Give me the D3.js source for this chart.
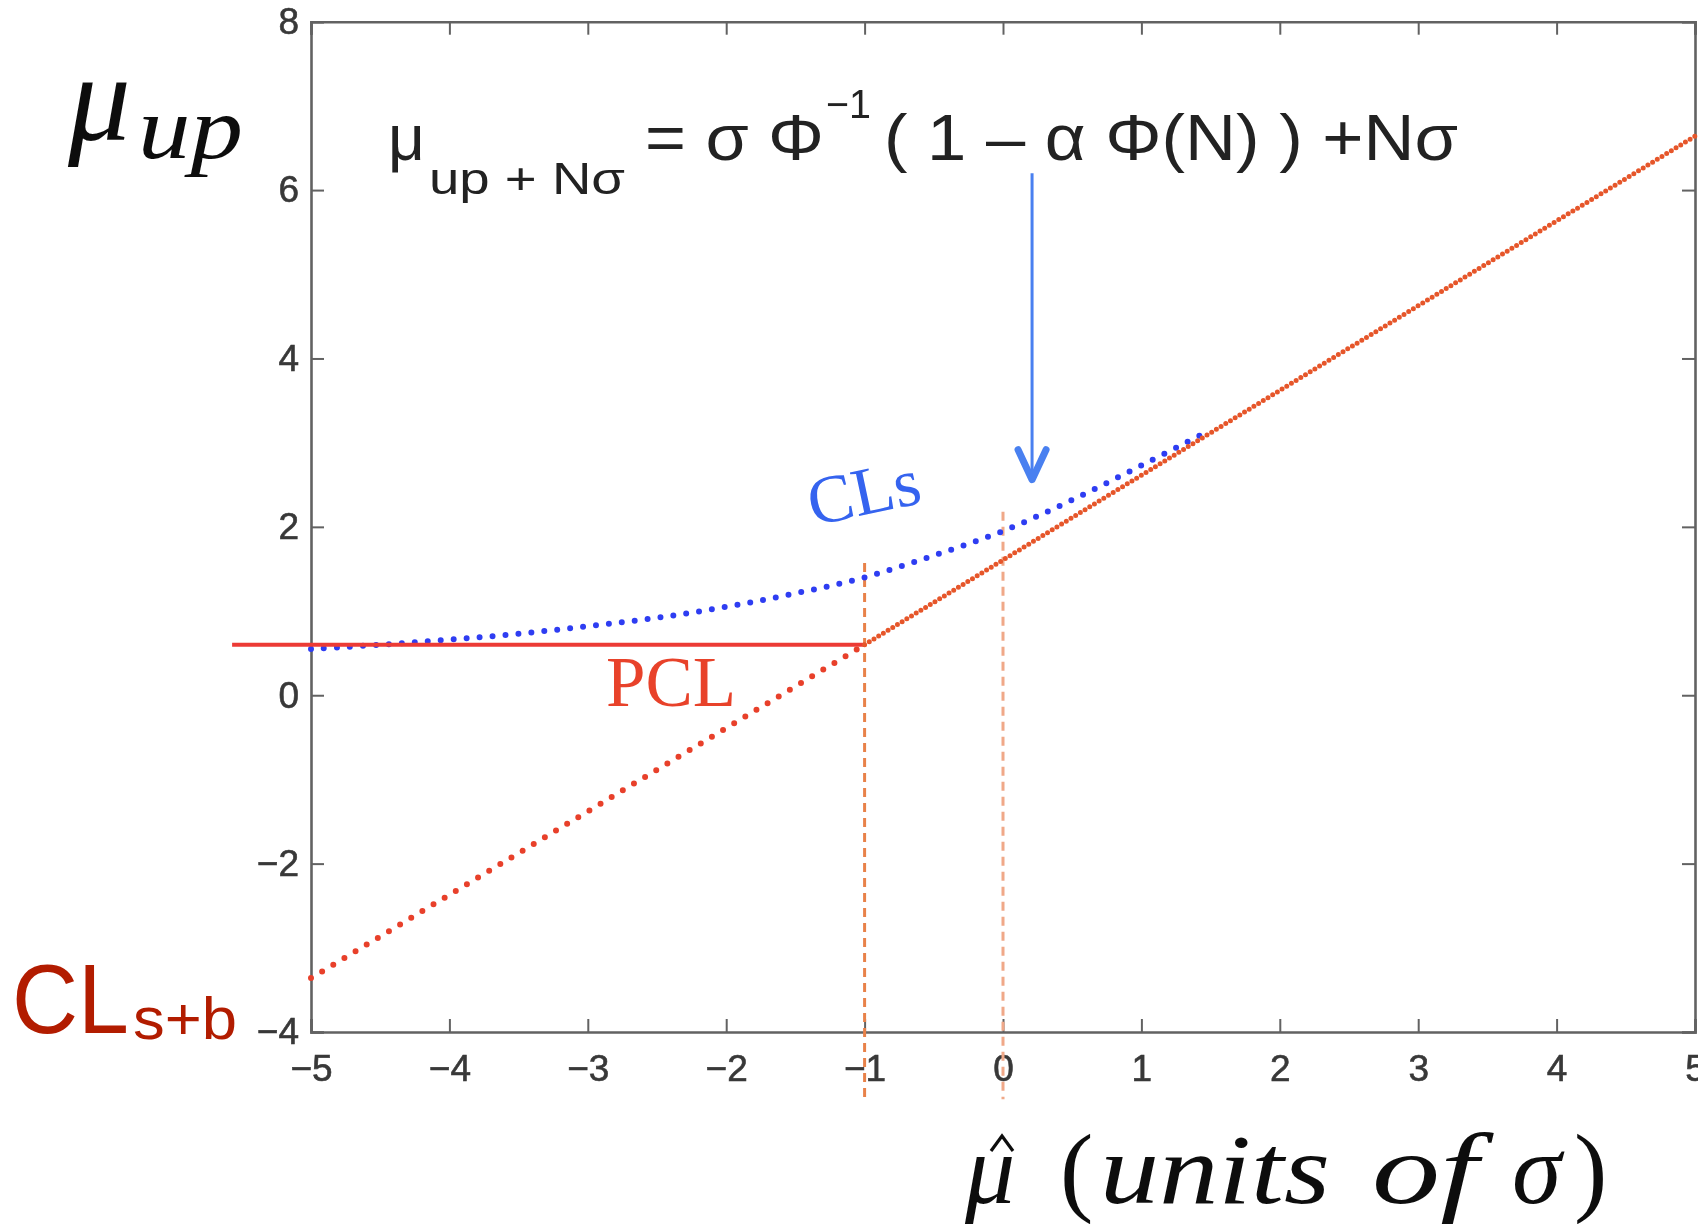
<!DOCTYPE html>
<html>
<head>
<meta charset="utf-8">
<script src="https://cdn.jsdelivr.net/npm/d3@7"></script>
<style>
  html, body { margin: 0; padding: 0; background: #fff; }
  svg { display: block; }
  .tick text { font-family: "Liberation Sans", Arial, sans-serif; fill: #383838; stroke: #383838; stroke-width: 0.6; }
</style>
</head>
<body>
<svg id="chart" width="1698" height="1224"></svg>
<script>
// ---- data ----
const xTicks = [-5, -4, -3, -2, -1, 0, 1, 2, 3, 4, 5];
const yTicks = [-4, -2, 0, 2, 4, 6, 8];

// CLs upper limit (blue dotted)
const clsX = [-5, -4.5, -4, -3.5, -3, -2.5, -2, -1.5, -1, -0.5, 0, 0.5, 1, 1.5];
const clsY = [0.55, 0.60, 0.66, 0.73, 0.82, 0.92, 1.05, 1.21, 1.40, 1.66, 1.95, 2.32, 2.73, 3.15];

// CLs+b limit: dotted part below the PCL floor, then the straight line
const clsbLowX = [-5, -1];
const clsbLowY = [-3.36, 0.60];
const clsbHighX = [-1, 5];
const clsbHighY = [0.60, 6.64];

// PCL floor (solid red)
const pclX = [-5.57, -1];
const pclY = [0.60, 0.60];

// vertical dashed markers
const markerX = [-1, 0];
const markerTopY = [1.57, 2.18];
const markerBottomY = -4.8;

// arrow
const arrowX = 0.21;
const arrowFromY = 6.2;
const arrowToY = 2.56;

// ---- layout ----
const svg = d3.select("#chart");
const mLeft = 311, mRight = 1695, mTop = 21.7, mBottom = 1032;
const x = d3.scaleLinear().domain([-5, 5]).range([mLeft, mRight]);
const y = d3.scaleLinear().domain([-4, 8]).range([mBottom, mTop]);

svg.append("rect").attr("width", 1698).attr("height", 1224).attr("fill", "#fff");
const defs = svg.append("defs");
defs.append("filter").attr("id", "soft").attr("x", "-5%").attr("y", "-5%").attr("width", "110%").attr("height", "110%")
  .append("feGaussianBlur").attr("stdDeviation", 0.7);
const root = svg.append("g").attr("filter", "url(#soft)");

// axes (inward ticks, mirrored box)
const axisColor = "#626262";
const fmt = d => String(d).replace("-", "\u2212");
const gB = root.append("g").attr("transform", `translate(0,${mBottom})`)
  .call(d3.axisBottom(x).tickValues(xTicks).tickSize(-13).tickPadding(23).tickFormat(fmt));
const gL = root.append("g").attr("transform", `translate(${mLeft},0)`)
  .call(d3.axisLeft(y).tickValues(yTicks).tickSize(-13).tickPadding(12).tickFormat(fmt));
const gT = root.append("g").attr("transform", `translate(0,${mTop})`)
  .call(d3.axisTop(x).tickValues(xTicks).tickSize(-13).tickFormat(""));
const gR = root.append("g").attr("transform", `translate(${mRight},0)`)
  .call(d3.axisRight(y).tickValues(yTicks).tickSize(-13).tickFormat(""));
[gB, gL, gT, gR].forEach(g => {
  g.select(".domain").attr("stroke", axisColor).attr("stroke-width", 2.6);
  g.selectAll(".tick line").attr("stroke", axisColor).attr("stroke-width", 2);
  g.selectAll(".tick text").attr("font-size", 37);
});
gB.selectAll(".tick text").attr("dy", "0.71em");

// vertical dashed lines
const markerColors = ["#e8824a", "#f0a888"];
markerX.forEach((mx, i) => {
  root.append("line")
    .attr("x1", x(mx)).attr("x2", x(mx))
    .attr("y1", y(markerTopY[i])).attr("y2", y(markerBottomY))
    .attr("stroke", markerColors[i]).attr("stroke-width", 3)
    .attr("stroke-dasharray", "9,6");
});

const zip = (a, b) => a.map((v, i) => [v, b[i]]);
const lineSmooth = d3.line().x(d => x(d[0])).y(d => y(d[1])).curve(d3.curveCatmullRom);
const lineStraight = d3.line().x(d => x(d[0])).y(d => y(d[1]));

// CLs blue dotted
root.append("path")
  .datum(zip(clsX, clsY))
  .attr("d", lineSmooth)
  .attr("fill", "none").attr("stroke", "#2f3df2").attr("stroke-width", 6)
  .attr("stroke-linecap", "round").attr("stroke-dasharray", "0,13");

// PCL solid floor
root.append("path")
  .datum(zip(pclX, pclY))
  .attr("d", lineStraight)
  .attr("fill", "none").attr("stroke", "#ec3a35").attr("stroke-width", 4);

// CLs+b lower dotted part
root.append("path")
  .datum(zip(clsbLowX, clsbLowY))
  .attr("d", lineStraight)
  .attr("fill", "none").attr("stroke", "#e8402c").attr("stroke-width", 6)
  .attr("stroke-linecap", "round").attr("stroke-dasharray", "0,13");

// CLs+b upper line (dense dots)
root.append("path")
  .datum(zip(clsbHighX, clsbHighY))
  .attr("d", lineStraight)
  .attr("fill", "none").attr("stroke", "#e6572c").attr("stroke-width", 5)
  .attr("stroke-linecap", "round").attr("stroke-dasharray", "0,5.5");

// blue arrow
const arrowColor = "#4a80f0";
const ax = x(arrowX), ay = y(arrowToY);
root.append("line")
  .attr("x1", ax).attr("x2", ax)
  .attr("y1", y(arrowFromY)).attr("y2", ay - 4)
  .attr("stroke", arrowColor).attr("stroke-width", 3);
root.append("path")
  .attr("d", `M${ax - 14},${ay - 30} L${ax},${ay} L${ax + 14},${ay - 30}`)
  .attr("fill", "none").attr("stroke", arrowColor).attr("stroke-width", 7)
  .attr("stroke-linejoin", "round").attr("stroke-linecap", "round");

// ---- text ----
const sans = '"Liberation Sans", Arial, Helvetica, sans-serif';
const serif = '"Liberation Serif", "Times New Roman", serif';

// y-axis title  μ_up
root.append("text").attr("x", 68).attr("y", 140)
  .attr("font-family", serif).attr("font-style", "italic").attr("font-size", 125)
  .attr("fill", "#111").text("\u03BC");
root.append("text").attr("x", 138).attr("y", 158)
  .attr("font-family", serif).attr("font-style", "italic").attr("font-size", 88)
  .attr("fill", "#111").attr("textLength", 105).attr("lengthAdjust", "spacingAndGlyphs").text("up");

// formula
const fcol = "#222";
root.append("text").attr("x", 388).attr("y", 160)
  .attr("font-family", sans).attr("font-size", 64).attr("fill", fcol).text("\u03BC");
root.append("text").attr("x", 429).attr("y", 194)
  .attr("font-family", sans).attr("font-size", 45).attr("fill", fcol)
  .attr("textLength", 196).attr("lengthAdjust", "spacingAndGlyphs").text("up + N\u03C3");
root.append("text").attr("x", 645).attr("y", 160)
  .attr("font-family", sans).attr("font-size", 64).attr("fill", fcol)
  .attr("textLength", 179).attr("lengthAdjust", "spacingAndGlyphs").text("= \u03C3 \u03A6");
root.append("text").attr("x", 826).attr("y", 118)
  .attr("font-family", sans).attr("font-size", 40).attr("fill", fcol)
  .attr("textLength", 45).attr("lengthAdjust", "spacingAndGlyphs").text("\u22121");
root.append("text").attr("x", 884).attr("y", 160)
  .attr("font-family", sans).attr("font-size", 64).attr("fill", fcol)
  .attr("textLength", 574).attr("lengthAdjust", "spacingAndGlyphs")
  .text("( 1 \u2013 \u03B1 \u03A6(N) ) +N\u03C3");

// CLs label
root.append("text").attr("transform", "translate(813,526) rotate(-12)")
  .attr("font-family", serif).attr("font-size", 68).attr("fill", "#3463ef").text("CLs");

// PCL label
root.append("text").attr("x", 606).attr("y", 706)
  .attr("font-family", serif).attr("font-size", 71).attr("fill", "#e8432c").text("PCL");

// CLs+b label
root.append("text").attr("x", 12).attr("y", 1033)
  .attr("font-family", sans).attr("font-size", 98).attr("fill", "#b21c02")
  .attr("textLength", 117).attr("lengthAdjust", "spacingAndGlyphs").text("CL");
root.append("text").attr("x", 133).attr("y", 1039)
  .attr("font-family", sans).attr("font-size", 60).attr("fill", "#b21c02")
  .attr("textLength", 104).attr("lengthAdjust", "spacingAndGlyphs").text("s+b");

// x-axis title  μ̂ (units of σ)
const xt = root.append("g").attr("font-family", serif).attr("font-style", "italic")
  .attr("font-size", 100).attr("fill", "#111");
xt.append("text").attr("x", 965).attr("y", 1203).text("\u03BC");
// circumflex accent over μ
root.append("path")
  .attr("d", "M991,1151 L1002,1136 L1013,1151")
  .attr("fill", "none").attr("stroke", "#111").attr("stroke-width", 3.2)
  .attr("stroke-linejoin", "miter");
xt.append("text").attr("x", 1060).attr("y", 1203).attr("font-style", "normal").text("(");
xt.append("text").attr("x", 1100).attr("y", 1203).attr("textLength", 230).attr("lengthAdjust", "spacingAndGlyphs").text("units");
xt.append("text").attr("x", 1372).attr("y", 1203).attr("textLength", 106).attr("lengthAdjust", "spacingAndGlyphs").text("of");
xt.append("text").attr("x", 1512).attr("y", 1203).text("\u03C3");
xt.append("text").attr("x", 1574).attr("y", 1203).attr("font-style", "normal").text(")");
</script>
</body>
</html>
